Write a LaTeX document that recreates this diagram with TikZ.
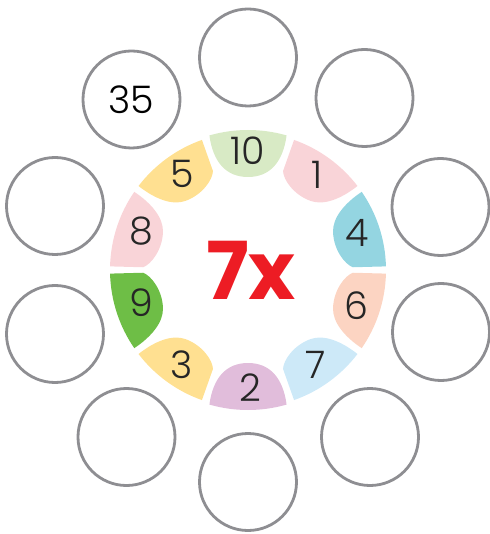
\documentclass[tikz,border=0pt]{standalone}
\usepackage{fontspec}
\setmainfont{Poppins}
\newfontfamily\numfont{Poppins Light}
\usepackage{xcolor}
\usepackage{tikz}

\definecolor{ringgray}{RGB}{142,142,146}
\definecolor{greenpale}{RGB}{216,234,197}
\definecolor{pinkpale}{RGB}{249,212,216}
\definecolor{bluemid}{RGB}{148,213,225}
\definecolor{peachpale}{RGB}{252,212,194}
\definecolor{skypale}{RGB}{205,233,248}
\definecolor{lilacpale}{RGB}{225,189,219}
\definecolor{yellowpale}{RGB}{255,224,145}
\definecolor{greenmid}{RGB}{110,190,70}
\definecolor{timesred}{RGB}{237,28,36}

% drop leaf: straight side on +x, tip at 33 deg (yscale=-1 flips it)
\newcommand{\dropleaf}[3]{%
  \fill[#3,rotate=#1,yscale=#2] (0:138) arc[start angle=0,end angle=33,radius=138]
    .. controls (98,64) and (86,50) .. (86,36)
    .. controls (86,18) and (97,3) .. (105,0) -- cycle;}
% round leaf, symmetric about its axis
\newcommand{\roundleaf}[2]{%
  \fill[#2,rotate=#1] (-16:140) arc[start angle=-16,end angle=16,radius=140]
    .. controls (108,35) and (93,22) .. (93,0)
    .. controls (93,-22) and (108,-35) .. (-16:140) -- cycle;}

\begin{document}
\begin{tikzpicture}[x=0.5pt,y=0.5pt,
  slot/.style={circle,draw=ringgray,line width=1.4pt,minimum size=48.5pt,inner sep=0pt,
    font=\numfont\fontsize{19}{19}\selectfont},
  factor/.style={font=\numfont\fontsize{19}{19}\selectfont,text=black!85,inner sep=0pt}]
  \useasboundingbox (-248,-264) rectangle (242,270);

  % answer circles
  \node[slot] (a90) at (0,212.5) {};
  \node[slot] (a54) at (116.5,172) {};
  \node[slot] (a18) at (192.5,63) {};
  \node[slot] (a-18) at (193,-62) {};
  \node[slot] (a-54) at (122,-167) {};
  \node[slot] (a-90) at (0,-212) {};
  \node[slot] (a-126) at (-121.5,-167) {};
  \node[slot] (a-162) at (-193,-64) {};
  \node[slot] (a162) at (-193,64) {};
  \node[slot] (a126) at (-116.5,170.5) {35};

  % leaves
  \roundleaf{90}{greenpale}
  \dropleaf{70.5}{-1}{pinkpale}
  \dropleaf{1.5}{1}{bluemid}
  \dropleaf{-1.5}{-1}{peachpale}
  \dropleaf{-70.5}{1}{skypale}
  \roundleaf{270}{lilacpale}
  \dropleaf{250.5}{-1}{yellowpale}
  \dropleaf{181.5}{1}{greenmid}
  \dropleaf{178.5}{-1}{pinkpale}
  \dropleaf{109.5}{1}{yellowpale}

  % factors
  \node[factor] (f10) at (90:119) {10};
  \node[factor] (f1) at (54:118) {1};
  \node[factor] (f4) at (19:115) {4};
  \node[factor] (f6) at (-18:114) {6};
  \node[factor] (f7) at (-54.5:116) {7};
  \node[factor] (f2) at (-89:118) {2};
  \node[factor] (f3) at (235:116) {3};
  \node[factor] (f9) at (197:111) {9};
  \node[factor] (f8) at (160:113) {8};
  \node[factor] (f5) at (124.5:117) {5};

  \node[font=\bfseries\fontsize{40}{40}\selectfont,text=timesred,inner sep=0pt] (times) at (3,0) {7x};
\end{tikzpicture}
\end{document}
